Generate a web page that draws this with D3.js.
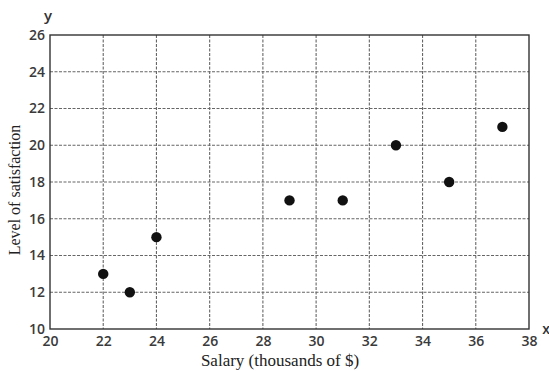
<!DOCTYPE html>
<html><head><meta charset="utf-8">
<script src="https://cdn.jsdelivr.net/npm/d3@7"></script>
<style>body{margin:0;background:#fff}</style>
</head><body><svg id="c" width="549" height="371"></svg>
<script>
const salary = [22, 23, 24, 29, 31, 33, 35, 37];
const satisfaction = [13, 12, 15, 17, 17, 20, 18, 21];
const xTicks = [20, 22, 24, 26, 28, 30, 32, 34, 36, 38];
const yTicks = [10, 12, 14, 16, 18, 20, 22, 24, 26];

const svg = d3.select("#c");
const L = 50, R = 529, T = 35, B = 329;
const x = d3.scaleLinear().domain([20, 38]).range([L, R]);
const y = d3.scaleLinear().domain([10, 26]).range([B, T]);

// grid
const g = svg.append("g");
g.selectAll("line.v").data(xTicks.slice(1, -1)).join("line")
  .attr("x1", d => x(d)).attr("x2", d => x(d)).attr("y1", T).attr("y2", B)
  .attr("stroke", "#666").attr("stroke-width", 1.1).attr("stroke-dasharray", "3,1.5");
g.selectAll("line.h").data(yTicks.slice(1, -1)).join("line")
  .attr("y1", d => y(d)).attr("y2", d => y(d)).attr("x1", L).attr("x2", R)
  .attr("stroke", "#666").attr("stroke-width", 1.1).attr("stroke-dasharray", "3,1.5");
svg.append("rect").attr("x", L).attr("y", T).attr("width", R - L).attr("height", B - T)
  .attr("fill", "none").attr("stroke", "#333").attr("stroke-width", 1.4);

// axes
const xa = svg.append("g").attr("transform", `translate(0,${B})`)
  .call(d3.axisBottom(x).tickValues(xTicks).tickSize(0).tickPadding(7));
const ya = svg.append("g").attr("transform", `translate(${L},0)`)
  .call(d3.axisLeft(y).tickValues(yTicks).tickSize(0).tickPadding(5));
[xa, ya].forEach(a => {
  a.select(".domain").remove();
  a.selectAll("text").attr("font-family", "'Open Sans', sans-serif")
    .attr("font-size", 14).attr("font-weight", 600).attr("fill", "#3a3a3a");
});

// points
svg.selectAll("circle").data(salary).join("circle")
  .attr("cx", d => x(d)).attr("cy", (d, i) => y(satisfaction[i])).attr("r", 5.2)
  .attr("fill", "#111");

// titles
svg.append("text").attr("x", 280).attr("y", 366).attr("text-anchor", "middle")
  .attr("font-family", "'Liberation Serif', serif").attr("font-size", 17).attr("fill", "#222")
  .text("Salary (thousands of $)");
svg.append("text").attr("transform", "translate(20,190) rotate(-90)").attr("text-anchor", "middle")
  .attr("font-family", "'Liberation Serif', serif").attr("font-size", 16).attr("fill", "#222")
  .text("Level of satisfaction");
svg.append("text").attr("x", 48).attr("y", 21).attr("text-anchor", "middle")
  .attr("font-family", "'Open Sans', sans-serif").attr("font-size", 15).attr("font-weight", 600).attr("fill", "#333").text("y");
svg.append("text").attr("x", 546).attr("y", 334).attr("text-anchor", "middle")
  .attr("font-family", "'Open Sans', sans-serif").attr("font-size", 14).attr("font-weight", 600).attr("fill", "#333").text("x");
</script></body></html>
